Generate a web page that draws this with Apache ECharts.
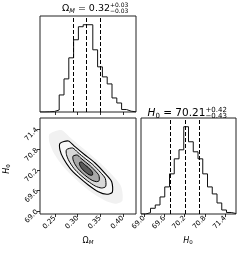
<!DOCTYPE html>
<html><head><meta charset="utf-8">
<script src="https://cdn.jsdelivr.net/npm/echarts@6/dist/echarts.min.js"></script>
<style>html,body{margin:0;padding:0;background:#fff}#c{width:242px;height:255px}</style>
</head><body><div id="c"></div>
<script>
// ---- data ----
const omTicks = [0.25, 0.30, 0.35, 0.40];
const h0Ticks = [69.0, 69.6, 70.2, 70.8, 71.4];
const omRange = [0.217, 0.429];
const h0Range = [68.91, 71.72];
const omCounts = [0, 2, 5, 20, 170, 330, 540, 720, 850, 870, 870, 620, 450, 350, 280, 140, 90, 25, 8, 2];
const h0Counts = [0, 13, 57, 90, 170, 270, 400, 550, 640, 870, 720, 620, 550, 400, 270, 200, 110, 40, 15, 5];
const omQuantiles = [0.29, 0.32, 0.35];
const h0Quantiles = [69.78, 70.21, 70.63];
// 2D density: sample cloud outline and contours (0.5,1,1.5,2 sigma) in (Omega_M, H0)
const cloud = [[0.2380,71.250],[0.2640,71.370],[0.2860,71.120],[0.3160,70.790],[0.3450,70.460],[0.3760,70.060],[0.3960,69.720],[0.3990,69.300],[0.3830,69.210],[0.3580,69.320],[0.3270,69.580],[0.2960,69.930],[0.2700,70.270],[0.2480,70.680],[0.2380,71.000]];
const contour2s = [[0.2612,70.979],[0.2795,71.047],[0.2943,70.880],[0.3164,70.637],[0.3385,70.403],[0.3605,70.101],[0.3753,69.855],[0.3767,69.545],[0.3643,69.487],[0.3457,69.563],[0.3237,69.759],[0.3016,70.002],[0.2832,70.248],[0.2685,70.540],[0.2612,70.783]];
const contour15s = [[0.2755,70.792],[0.2892,70.842],[0.3003,70.716],[0.3168,70.534],[0.3336,70.359],[0.3502,70.133],[0.3612,69.949],[0.3621,69.715],[0.3528,69.671],[0.3389,69.729],[0.3224,69.876],[0.3058,70.057],[0.2921,70.242],[0.2811,70.461],[0.2755,70.646]];
const contour1s = [[0.2899,70.603],[0.2991,70.637],[0.3065,70.553],[0.3175,70.432],[0.3285,70.315],[0.3396,70.164],[0.3470,70.041],[0.3476,69.886],[0.3415,69.857],[0.3322,69.895],[0.3211,69.993],[0.3101,70.114],[0.3009,70.237],[0.2935,70.384],[0.2899,70.505]];
const contour05s = [[0.3042,70.414],[0.3089,70.432],[0.3125,70.391],[0.3180,70.329],[0.3236,70.271],[0.3291,70.195],[0.3327,70.133],[0.3332,70.057],[0.3301,70.043],[0.3254,70.060],[0.3199,70.110],[0.3144,70.171],[0.3098,70.233],[0.3060,70.306],[0.3042,70.366]];

// ---- styles ----
const polys = [cloud, contour2s, contour15s, contour1s, contour05s];
const polyStyle = [
  {fill:'#f1f1f1', stroke:null, lw:0},
  {fill:'#f7f7f7', stroke:'#000', lw:1.1},
  {fill:'#d8d8d8', stroke:'#000', lw:1},
  {fill:'#a8a8a8', stroke:'#000', lw:1},
  {fill:'#5a5a5a', stroke:'#000', lw:1}
];
const FAM = 'DejaVu Sans';
const ctx = document.createElement('canvas').getContext('2d');
function tw(t, font){ ctx.font = font; return ctx.measureText(t).width; }
function run(items){
  let x = 0, lastX = 0; const ch = [];
  items.forEach(p => {
    const font = (p.it ? 'italic ' : '') + p.s + 'px ' + FAM;
    const wd = tw(p.t, font);
    const px = p.same ? lastX : x;
    ch.push({type:'text', x:px, y:p.dy || 0, style:{text:p.t, font:font, fill:'#000', align:'left', verticalAlign:'middle'}});
    if (p.same) { x = Math.max(x, px + wd); } else { lastX = px; x = px + wd; }
  });
  return {ch, width:x};
}
function stepData(counts, range){
  const n = counts.length, w = (range[1]-range[0]) / n;
  const d = [[range[0], 0]];
  counts.forEach((c,i) => d.push([range[0] + i*w, c]));
  d.push([range[1], counts[n-1]]);
  d.push([range[1], 0]);
  return d;
}
const tickStyle = {show:true, length:3, lineStyle:{color:'#000', width:0.8}};
const lblBase = {fontSize:7, color:'#000', fontFamily:FAM, rotate:45, margin:3};
const grids = [
  {left:40, top:16, width:96, height:96, show:true, borderColor:'#222', borderWidth:1},
  {left:40, top:118, width:96, height:96, show:true, borderColor:'#222', borderWidth:1},
  {left:141, top:118, width:95, height:96, show:true, borderColor:'#222', borderWidth:1}
];
const xAxes = [
  {gridIndex:0, type:'value', min:omRange[0], max:omRange[1], axisLine:{show:false}, splitLine:{show:false},
   axisLabel:{show:false, customValues:omTicks}, axisTick:Object.assign({customValues:omTicks}, tickStyle)},
  {gridIndex:1, type:'value', min:omRange[0], max:omRange[1], axisLine:{show:false}, splitLine:{show:false},
   axisLabel:Object.assign({customValues:omTicks, formatter:v=>v.toFixed(2)}, lblBase), axisTick:Object.assign({customValues:omTicks}, tickStyle)},
  {gridIndex:2, type:'value', min:h0Range[0], max:h0Range[1], axisLine:{show:false}, splitLine:{show:false},
   axisLabel:Object.assign({customValues:h0Ticks, formatter:v=>v.toFixed(1)}, lblBase), axisTick:Object.assign({customValues:h0Ticks}, tickStyle)}
];
const yAxes = [
  {gridIndex:0, type:'value', min:0, max:1.1*Math.max(...omCounts), show:false},
  {gridIndex:1, type:'value', min:h0Range[0], max:h0Range[1], axisLine:{show:false}, splitLine:{show:false},
   axisLabel:Object.assign({customValues:h0Ticks, formatter:v=>v.toFixed(1)}, lblBase), axisTick:Object.assign({customValues:h0Ticks}, tickStyle)},
  {gridIndex:2, type:'value', min:0, max:1.1*Math.max(...h0Counts), show:false}
];
const dash = {symbol:'none', silent:true, label:{show:false}, lineStyle:{type:[4,2], color:'#000', width:1}};
const series = [
  {type:'custom', xAxisIndex:1, yAxisIndex:1, clip:true, silent:true,
   data: polys.map((p,k) => [p[0][0], p[0][1], k]),
   renderItem: function(params, api){
     const k = api.value(2); const st = polyStyle[k];
     return {type:'polygon', shape:{points: polys[k].map(pt => api.coord(pt)), smooth:0.25},
             style:{fill:st.fill, stroke:st.stroke || 'none', lineWidth:st.lw}};
   }},
  {type:'line', xAxisIndex:0, yAxisIndex:0, step:'end', symbol:'none', data:stepData(omCounts, omRange),
   lineStyle:{color:'#111', width:1}, markLine:Object.assign({data: omQuantiles.map(q => ({xAxis:q}))}, dash)},
  {type:'line', xAxisIndex:2, yAxisIndex:2, step:'end', symbol:'none', data:stepData(h0Counts, h0Range),
   lineStyle:{color:'#111', width:1}, markLine:Object.assign({data: h0Quantiles.map(q => ({xAxis:q}))}, dash)}
];
// titles / labels
const t1 = run([{t:'Ω', s:9.5}, {t:'M', s:6.5, it:true, dy:2.8}, {t:' = 0.32', s:9.5}, {t:'+0.03', s:6, dy:-3.4}, {t:'−0.03', s:6, dy:2.8, same:true}]);
const t2 = run([{t:'H', s:10.5, it:true}, {t:'0', s:7, dy:3}, {t:' = 70.21', s:10.5}, {t:'+0.42', s:7, dy:-3.6}, {t:'−0.43', s:7, dy:3, same:true}]);
const n1 = run([{t:'Ω', s:8}, {t:'M', s:5.5, it:true, dy:2}]);
const n2 = run([{t:'H', s:8, it:true}, {t:'0', s:5.5, dy:2}]);
const n3 = run([{t:'H', s:8, it:true}, {t:'0', s:5.5, dy:2}]);
const graphic = [
  {type:'group', x:62, y:8.5, children:t1.ch},
  {type:'group', x:147.5, y:113.5, children:t2.ch},
  {type:'group', x:88 - n1.width/2, y:241, children:n1.ch},
  {type:'group', x:188 - n2.width/2, y:241, children:n2.ch},
  {type:'group', x:7, y:169 + n3.width/2, rotation:Math.PI/2, children:n3.ch}
];
const chart = echarts.init(document.getElementById('c'), null, {renderer:'canvas'});
chart.setOption({animation:false, backgroundColor:'#fff', grid:grids, xAxis:xAxes, yAxis:yAxes, series:series, graphic:graphic});
</script></body></html>
